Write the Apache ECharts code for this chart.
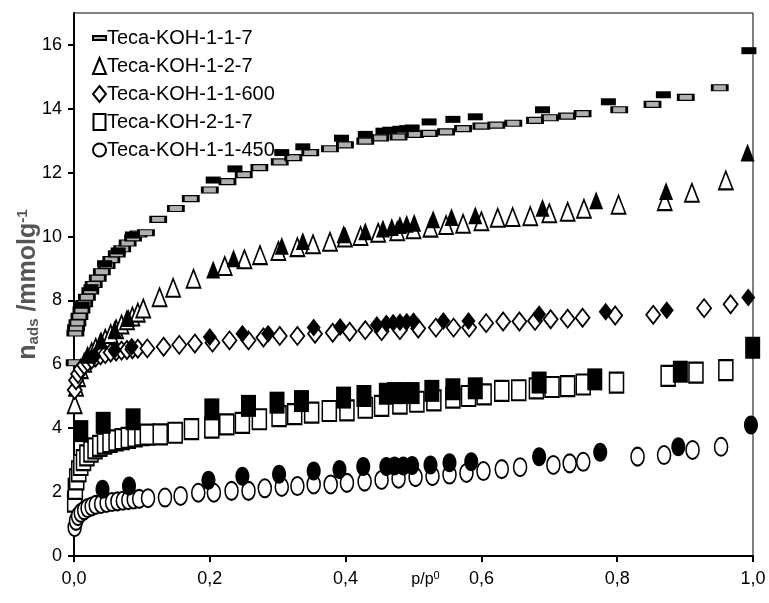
<!DOCTYPE html>
<html>
<head>
<meta charset="utf-8">
<script src="https://cdn.jsdelivr.net/npm/echarts@6/dist/echarts.min.js"></script>
<style>html,body{margin:0;padding:0;background:#fff;}#c{width:769px;height:603px;}</style>
</head>
<body>
<div id="c"></div>
<script>
// ---------- data ----------
const seriesNames = ['Teca-KOH-1-1-7','Teca-KOH-1-2-7','Teca-KOH-1-1-600','Teca-KOH-2-1-7','Teca-KOH-1-1-450'];
const xTicks = [0, 0.2, 0.4, 0.6, 0.8, 1.0];
const xTickLabels = ['0,0','0,2','0,4','0,6','0,8','1,0'];
const yTicks = [0, 2, 4, 6, 8, 10, 12, 14, 16];

// Teca-KOH-1-1-7 adsorption (open) / desorption (filled)
const s1Ads = [[0.001,6.05],[0.002,6.98],[0.003,7.14],[0.005,7.3],[0.008,7.5],[0.011,7.7],[0.015,7.9],[0.019,8.1],[0.024,8.3],[0.029,8.5],[0.035,8.7],[0.041,8.9],[0.048,9.1],[0.055,9.28],[0.063,9.46],[0.071,9.62],[0.079,9.8],[0.087,9.96],[0.095,10.08],[0.106,10.12],[0.124,10.54],[0.150,10.88],[0.172,11.19],[0.200,11.46],[0.226,11.72],[0.250,11.94],[0.273,12.16],[0.303,12.34],[0.323,12.47],[0.348,12.63],[0.377,12.75],[0.399,12.87],[0.429,12.99],[0.451,13.09],[0.478,13.12],[0.502,13.2],[0.523,13.23],[0.548,13.28],[0.573,13.38],[0.600,13.46],[0.622,13.49],[0.647,13.55],[0.679,13.64],[0.701,13.72],[0.726,13.77],[0.749,13.85],[0.803,13.97],[0.852,14.14],[0.901,14.36],[0.951,14.66]];
const s1Des = [[0.012,7.85],[0.025,8.4],[0.045,9.15],[0.065,9.55],[0.086,10.05],[0.205,11.77],[0.237,12.12],[0.306,12.63],[0.337,12.81],[0.394,13.08],[0.429,13.2],[0.455,13.3],[0.465,13.33],[0.48,13.36],[0.49,13.38],[0.498,13.4],[0.523,13.59],[0.558,13.67],[0.591,13.75],[0.69,13.97],[0.787,14.22],[0.868,14.44],[0.994,15.82]];

// Teca-KOH-1-2-7
const s2Ads = [[0.001,4.75],[0.003,5.3],[0.006,5.6],[0.01,5.85],[0.015,6.05],[0.02,6.22],[0.026,6.38],[0.032,6.52],[0.039,6.66],[0.046,6.8],[0.054,6.95],[0.062,7.1],[0.07,7.25],[0.078,7.38],[0.086,7.5],[0.094,7.62],[0.102,7.75],[0.126,8.1],[0.146,8.4],[0.176,8.68],[0.222,9.08],[0.251,9.29],[0.274,9.42],[0.301,9.55],[0.329,9.67],[0.352,9.76],[0.377,9.84],[0.399,9.97],[0.422,10.02],[0.448,10.12],[0.476,10.17],[0.5,10.23],[0.525,10.28],[0.548,10.36],[0.573,10.4],[0.6,10.48],[0.624,10.59],[0.646,10.61],[0.672,10.64],[0.7,10.73],[0.727,10.78],[0.751,10.87],[0.802,11.0],[0.87,11.11],[0.91,11.37],[0.96,11.76]];
const s2Des = [[0.02,6.3],[0.04,6.75],[0.06,7.1],[0.08,7.45],[0.205,8.97],[0.235,9.32],[0.306,9.71],[0.337,9.86],[0.397,10.07],[0.429,10.17],[0.455,10.25],[0.468,10.3],[0.48,10.36],[0.49,10.4],[0.501,10.43],[0.529,10.54],[0.556,10.61],[0.591,10.67],[0.69,10.9],[0.769,11.14],[0.872,11.43],[0.992,12.63]];

// Teca-KOH-1-1-600
const s3Ads = [[0.001,5.2],[0.003,5.5],[0.006,5.7],[0.01,5.85],[0.015,5.97],[0.02,6.07],[0.026,6.15],[0.032,6.22],[0.039,6.28],[0.046,6.32],[0.054,6.37],[0.062,6.4],[0.07,6.43],[0.078,6.45],[0.086,6.47],[0.094,6.49],[0.108,6.5],[0.132,6.55],[0.155,6.61],[0.178,6.65],[0.204,6.68],[0.229,6.75],[0.257,6.75],[0.279,6.84],[0.303,6.89],[0.329,6.89],[0.355,6.96],[0.381,6.99],[0.406,7.02],[0.429,7.07],[0.453,7.04],[0.48,7.07],[0.507,7.12],[0.533,7.15],[0.559,7.15],[0.582,7.15],[0.607,7.29],[0.632,7.34],[0.656,7.34],[0.679,7.36],[0.702,7.41],[0.727,7.43],[0.749,7.46],[0.797,7.53],[0.853,7.55],[0.928,7.76],[0.967,7.88]];
const s3Des = [[0.03,6.25],[0.06,6.45],[0.085,6.55],[0.2,6.86],[0.248,6.96],[0.286,6.96],[0.353,7.15],[0.392,7.17],[0.446,7.23],[0.46,7.28],[0.47,7.3],[0.48,7.32],[0.49,7.33],[0.5,7.35],[0.544,7.36],[0.581,7.36],[0.685,7.57],[0.783,7.65],[0.873,7.69],[0.993,8.09]];

// Teca-KOH-2-1-7
const s4Ads = [[0.001,1.7],[0.002,2.1],[0.004,2.4],[0.007,2.65],[0.01,2.85],[0.014,3.0],[0.019,3.15],[0.025,3.27],[0.031,3.37],[0.038,3.45],[0.045,3.52],[0.053,3.57],[0.062,3.62],[0.071,3.66],[0.08,3.7],[0.09,3.74],[0.1,3.78],[0.108,3.8],[0.127,3.81],[0.149,3.86],[0.173,3.97],[0.203,4.02],[0.225,4.12],[0.248,4.17],[0.273,4.28],[0.302,4.38],[0.325,4.44],[0.35,4.49],[0.376,4.54],[0.402,4.56],[0.429,4.64],[0.453,4.7],[0.48,4.77],[0.505,4.83],[0.53,4.87],[0.558,4.96],[0.581,5.01],[0.604,5.06],[0.63,5.17],[0.655,5.19],[0.681,5.25],[0.704,5.29],[0.727,5.32],[0.75,5.37],[0.799,5.43],[0.875,5.64],[0.916,5.74],[0.96,5.82]];
const s4Des = [[0.01,3.91],[0.043,4.17],[0.087,4.28],[0.203,4.59],[0.257,4.7],[0.299,4.8],[0.335,4.85],[0.397,4.96],[0.427,5.01],[0.46,5.08],[0.472,5.1],[0.485,5.1],[0.498,5.1],[0.527,5.17],[0.558,5.22],[0.591,5.25],[0.685,5.43],[0.767,5.53],[0.893,5.77],[0.9995,6.52]];

// Teca-KOH-1-1-450
const s5Ads = [[0.001,0.9],[0.003,1.1],[0.006,1.25],[0.01,1.35],[0.015,1.43],[0.02,1.5],[0.026,1.55],[0.032,1.6],[0.04,1.63],[0.048,1.66],[0.056,1.69],[0.064,1.71],[0.072,1.73],[0.08,1.75],[0.088,1.77],[0.096,1.79],[0.109,1.81],[0.134,1.83],[0.157,1.88],[0.183,1.98],[0.206,1.98],[0.232,2.04],[0.257,2.04],[0.281,2.12],[0.306,2.16],[0.329,2.19],[0.353,2.24],[0.378,2.24],[0.402,2.29],[0.428,2.33],[0.453,2.38],[0.478,2.42],[0.503,2.47],[0.528,2.5],[0.553,2.55],[0.578,2.6],[0.603,2.66],[0.63,2.72],[0.657,2.78],[0.706,2.85],[0.73,2.9],[0.75,2.95],[0.83,3.11],[0.869,3.16],[0.911,3.32],[0.953,3.42]];
const s5Des = [[0.042,2.09],[0.081,2.19],[0.198,2.37],[0.248,2.5],[0.302,2.56],[0.353,2.66],[0.391,2.71],[0.426,2.8],[0.46,2.8],[0.472,2.82],[0.485,2.82],[0.498,2.83],[0.525,2.85],[0.553,2.92],[0.585,2.95],[0.685,3.11],[0.775,3.25],[0.89,3.42],[0.997,4.1]];

// ---------- styling ----------
const FONT = "'Liberation Sans', Arial, sans-serif";
const ellipse = 'path://M1,0C1,0.552,0.552,1,0,1C-0.552,1,-1,0.552,-1,0C-1,-0.552,-0.552,-1,0,-1C0.552,-1,1,-0.552,1,0Z';
const symbols = ['rect','triangle','diamond','rect',ellipse];
const openSizes = [[15,6],[14,18],[14,18],[14,20],[13,18]];
const fillSizes = [[15,7],[14,18],[14,18],[15,22],[14,19]];
const openFill = ['#b0b0b0','#fff','#fff','#fff','#fff'];
const legendIcons = ['path://M0,0H13V4H0Z','triangle','diamond','path://M0,0H12V16H0Z',ellipse];

const adsData = [s1Ads,s2Ads,s3Ads,s4Ads,s5Ads];
const desData = [s1Des,s2Des,s3Des,s4Des,s5Des];

const series = [];
seriesNames.forEach((n,i)=>{
  series.push({
    name:n, type:'scatter', data:adsData[i], symbol:symbols[i], symbolSize:openSizes[i],
    itemStyle:{color:openFill[i], borderColor:'#000', borderWidth:1.8, opacity:1},
    emphasis:{disabled:true}, z:2
  });
});
seriesNames.forEach((n,i)=>{
  series.push({
    name:n+' des', type:'scatter', data:desData[i], symbol:symbols[i], symbolSize:fillSizes[i],
    itemStyle:{color:'#000', borderColor:'#000', borderWidth:0, opacity:1},
    emphasis:{disabled:true}, z:3
  });
});

const chart = echarts.init(document.getElementById('c'), null, {renderer:'canvas'});
chart.setOption({
  animation:false,
  backgroundColor:'#fff',
  textStyle:{fontFamily:FONT},
  grid:{left:74, right:16, top:13, bottom:47, show:true, borderColor:'#000', borderWidth:1, containLabel:false, outerBoundsMode:'none'},
  legend:{
    data: seriesNames.map((n,i)=>({name:n, icon:legendIcons[i]})),
    orient:'vertical', left:92, top:24, padding:0, itemWidth:13, itemHeight:16, itemGap:0,
    symbolKeepAspect:true,
    textStyle:{fontFamily:FONT, fontSize:20, color:'#000', lineHeight:28, padding:[0,0,0,-4]}
  },
  xAxis:{
    type:'value', min:0, max:1, interval:0.2,
    name:'{a|p/p}{s|0}', nameLocation:'middle', nameGap:14, nameMoveOverlap:false,
    nameTextStyle:{padding:[0,0,0,24], rich:{a:{fontSize:16,color:'#000',fontFamily:FONT}, s:{fontSize:11,color:'#000',fontFamily:FONT,padding:[0,0,9,0]}}},
    axisLine:{show:true, onZero:false, lineStyle:{color:'#000', width:2}},
    axisTick:{show:true, inside:false, length:6, lineStyle:{color:'#000', width:2}, customValues:xTicks},
    axisLabel:{fontSize:18, color:'#000', fontFamily:FONT, margin:14, customValues:xTicks,
      formatter:(v)=>{const k=xTicks.findIndex(t=>Math.abs(t-v)<1e-6); return k>=0?xTickLabels[k]:'';}},
    splitLine:{show:false}
  },
  yAxis:{
    type:'value', min:0, max:17, interval:2,
    name:'{b|n}{s|ads}{b| /mmolg}{p|-1}', nameLocation:'middle', nameGap:32, nameRotate:90, nameMoveOverlap:false,
    nameTextStyle:{rich:{
      b:{fontSize:25, fontWeight:'bold', color:'#555', fontFamily:FONT},
      s:{fontSize:15, fontWeight:'bold', color:'#555', fontFamily:FONT, padding:[10,0,0,0]},
      p:{fontSize:15, fontWeight:'bold', color:'#555', fontFamily:FONT, padding:[0,0,12,0]}
    }},
    axisLine:{show:true, onZero:false, lineStyle:{color:'#000', width:2}},
    axisTick:{show:true, inside:false, length:6, lineStyle:{color:'#000', width:2}, customValues:yTicks},
    axisLabel:{fontSize:18, color:'#000', fontFamily:FONT, margin:12, customValues:yTicks},
    splitLine:{show:false}
  },
  series: series
});
</script>
</body>
</html>
